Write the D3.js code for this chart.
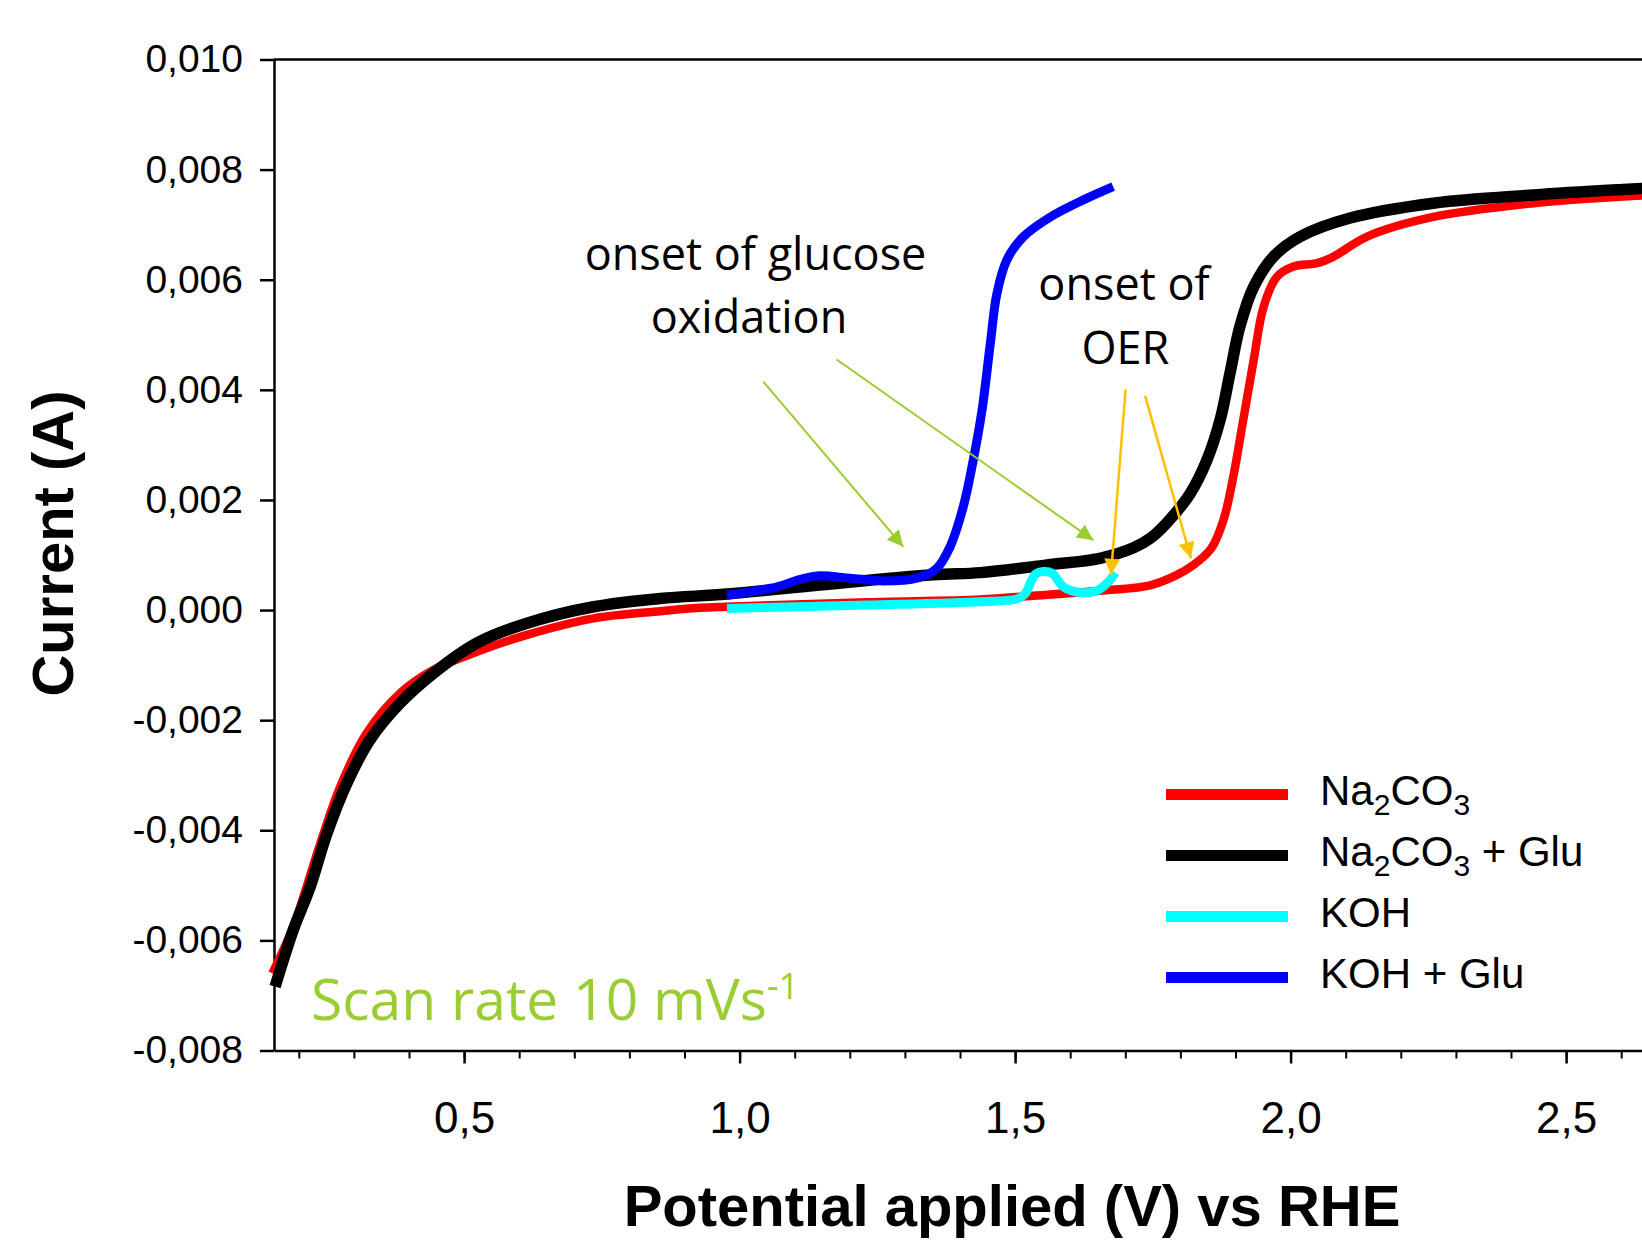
<!DOCTYPE html>
<html>
<head>
<meta charset="utf-8">
<script src="https://cdn.jsdelivr.net/npm/d3@7"></script>
<style>
	html, body { margin: 0; padding: 0; background: #fff; }
	svg { display: block; }
</style>
</head>
<body>
<div id="chart"></div>
<script>
'use strict';

// potential (V vs RHE) and current (A)
var na2co3V = [0.152, 0.19, 0.239, 0.275, 0.323, 0.384, 0.444, 0.523, 0.614, 0.735, 0.856, 0.928, 0.977, 1.231, 1.437, 1.533, 1.665, 1.745, 1.79, 1.824, 1.856, 1.878, 1.896, 1.914, 1.933, 1.951, 1.975, 2.005, 2.048, 2.078, 2.138, 2.259, 2.441, 2.603, 2.66];
var na2co3A = [-0.0066, -0.00575, -0.00424, -0.00321, -0.00224, -0.00151, -0.00109, -0.00076, -0.00045, -0.00015, -0.00002, 0.00004, 0.00006, 0.00014, 0.00019, 0.00026, 0.00036, 0.00045, 0.00062, 0.00082, 0.00112, 0.00163, 0.00242, 0.00345, 0.00454, 0.00551, 0.00605, 0.00624, 0.0063, 0.00642, 0.00678, 0.00714, 0.00739, 0.00751, 0.00754];

var na2co3GluV = [0.157, 0.19, 0.2205, 0.251, 0.287, 0.329, 0.384, 0.444, 0.523, 0.614, 0.735, 0.856, 0.977, 1.15, 1.352, 1.437, 1.558, 1.654, 1.715, 1.745, 1.775, 1.818, 1.848, 1.872, 1.89, 1.908, 1.933, 1.969, 2.017, 2.108, 2.259, 2.441, 2.603, 2.66];
var na2co3GluA = [-0.00684, -0.00581, -0.00503, -0.00406, -0.00315, -0.00236, -0.00169, -0.00115, -0.0006, -0.00024, 0.00006, 0.00021, 0.00029, 0.00046, 0.00064, 0.00068, 0.00082, 0.00094, 0.00113, 0.0013, 0.00158, 0.00212, 0.00272, 0.00345, 0.0043, 0.00515, 0.00587, 0.00642, 0.00678, 0.00712, 0.00739, 0.00754, 0.00764, 0.00767];

var kohV = [0.977, 1.231, 1.437, 1.503, 1.518, 1.53, 1.538, 1.551, 1.567, 1.588, 1.618, 1.648, 1.669, 1.682];
var kohA = [0.00003, 0.00009, 0.00015, 0.0002, 0.00029, 0.00054, 0.00066, 0.0007, 0.00067, 0.00042, 0.00032, 0.00035, 0.00051, 0.00068];

var kohGluV = [0.977, 1.068, 1.104, 1.14, 1.2, 1.261, 1.322, 1.358, 1.382, 1.406, 1.424, 1.44, 1.455, 1.467, 1.485, 1.515, 1.564, 1.624, 1.678];
var kohGluA = [0.00027, 0.00042, 0.00054, 0.00062, 0.00058, 0.00053, 0.00058, 0.00076, 0.00115, 0.00188, 0.00272, 0.00363, 0.00484, 0.00575, 0.00636, 0.00678, 0.00714, 0.00745, 0.00769];

var seriesNames = ["Na2CO3", "Na2CO3 + Glu", "KOH", "KOH + Glu"];
var seriesColors = ["#ff0000", "#000000", "#00ffff", "#0000ff"];

var xTicks = [0.5, 1.0, 1.5, 2.0, 2.5];
var xTickLabels = ["0,5", "1,0", "1,5", "2,0", "2,5"];
var xMinorTicks = d3.range(2, 27).map(function(i) { return i / 10; });
var yTicks = [-0.008, -0.006, -0.004, -0.002, 0, 0.002, 0.004, 0.006, 0.008, 0.010];
var yTickLabels = ["-0,008", "-0,006", "-0,004", "-0,002", "0,000", "0,002", "0,004", "0,006", "0,008", "0,010"];

// arrows: [V start, A start, V tip, A tip]
var glucoseArrows = [[1.043, 0.00415, 1.297, 0.00115], [1.176, 0.00455, 1.642, 0.00127]];
var oerArrows = [[1.7005, 0.00401, 1.674, 0.00064], [1.736, 0.00389, 1.819, 0.00094]];

var width = 1642, height = 1240;
var armFont = "'Liberation Sans', Arial, Helvetica, sans-serif";
var noteFont = "'Open Sans', 'DejaVu Sans', sans-serif";

var x = d3.scaleLinear().domain([0.155, 2.7]).range([274, 1676.3]);
var y = d3.scaleLinear().domain([-0.008, 0.010]).range([1050.5, 59.5]);

var svg = d3.select("#chart").append("svg")
	.attr("width", width)
	.attr("height", height)
	.attr("font-family", armFont);

// frame line on top
svg.append("line")
	.attr("x1", x(0.155)).attr("x2", width)
	.attr("y1", y(0.010)).attr("y2", y(0.010))
	.attr("stroke", "#000").attr("stroke-width", 2.5);

// axes
var xMinor = svg.append("g")
	.attr("transform", "translate(0," + y(-0.008) + ")")
	.call(d3.axisBottom(x).tickValues(xMinorTicks).tickSize(8).tickSizeOuter(0).tickFormat(""));
xMinor.selectAll("line").attr("stroke-width", 2);
xMinor.select(".domain").attr("stroke-width", 2.5);

var xAxis = svg.append("g")
	.attr("transform", "translate(0," + y(-0.008) + ")")
	.call(d3.axisBottom(x).tickValues(xTicks).tickSize(13).tickSizeOuter(0).tickPadding(38)
		.tickFormat(function(d, i) { return xTickLabels[i]; }));
xAxis.select(".domain").remove();
xAxis.selectAll("line").attr("stroke-width", 2.5);
xAxis.selectAll("text")
	.attr("font-family", armFont)
	.attr("font-size", 44)
	.attr("fill", "#000");

var yAxis = svg.append("g")
	.attr("transform", "translate(" + x(0.155) + ",0)")
	.call(d3.axisLeft(y).tickValues(yTicks).tickSize(14).tickSizeOuter(0).tickPadding(17)
		.tickFormat(function(d, i) { return yTickLabels[i]; }));
yAxis.select(".domain").attr("stroke-width", 2.5);
yAxis.selectAll("line").attr("stroke-width", 2.5);
yAxis.selectAll("text")
	.attr("font-family", armFont)
	.attr("font-size", 39)
	.attr("fill", "#000");

// axis titles
svg.append("text")
	.attr("transform", "rotate(-90)")
	.attr("x", -543.5).attr("y", 73)
	.attr("text-anchor", "middle")
	.attr("font-size", 58).attr("font-weight", "bold")
	.text("Current (A)");

svg.append("text")
	.attr("x", 1012).attr("y", 1226)
	.attr("text-anchor", "middle")
	.attr("font-size", 58).attr("font-weight", "bold")
	.text("Potential applied (V) vs RHE");

// curves
function toPoints(vs, as) {
	return vs.map(function(v, i) { return [v, as[i]]; });
}
var series = [
	{ pts: toPoints(na2co3V, na2co3A), color: seriesColors[0], w: 8.5 },
	{ pts: toPoints(na2co3GluV, na2co3GluA), color: seriesColors[1], w: 11.5 },
	{ pts: toPoints(kohV, kohA), color: seriesColors[2], w: 9 },
	{ pts: toPoints(kohGluV, kohGluA), color: seriesColors[3], w: 9 }
];

var line = d3.line()
	.x(function(d) { return x(d[0]); })
	.y(function(d) { return y(d[1]); })
	.curve(d3.curveCatmullRom.alpha(0.5));

svg.append("g").selectAll("path")
	.data(series)
	.enter().append("path")
	.attr("d", function(s) { return line(s.pts); })
	.attr("fill", "none")
	.attr("stroke", function(s) { return s.color; })
	.attr("stroke-width", function(s) { return s.w; })
	.attr("stroke-linejoin", "round")
	.attr("stroke-linecap", "butt");

// arrows
var defs = svg.append("defs");
function marker(id, color) {
	defs.append("marker")
		.attr("id", id)
		.attr("viewBox", "0 0 10 10")
		.attr("refX", 10).attr("refY", 5)
		.attr("markerUnits", "userSpaceOnUse")
		.attr("markerWidth", 19).attr("markerHeight", 16)
		.attr("orient", "auto")
		.append("path")
		.attr("d", "M0,0 L10,5 L0,10 Z")
		.attr("fill", color);
}
marker("headGreen", "#9acd32");
marker("headOrange", "#ffc000");

function drawArrows(list, color, head, w) {
	svg.append("g").selectAll("line")
		.data(list)
		.enter().append("line")
		.attr("x1", function(d) { return x(d[0]); })
		.attr("y1", function(d) { return y(d[1]); })
		.attr("x2", function(d) { return x(d[2]); })
		.attr("y2", function(d) { return y(d[3]); })
		.attr("stroke", color)
		.attr("stroke-width", w)
		.attr("marker-end", "url(#" + head + ")");
}
drawArrows(glucoseArrows, "#9acd32", "headGreen", 2);
drawArrows(oerArrows, "#ffc000", "headOrange", 2.5);

// annotation texts
var notes = [
	{ t: "onset of glucose", x: 755.5, y: 270 },
	{ t: "oxidation", x: 749, y: 333 },
	{ t: "onset of", x: 1124, y: 300 },
	{ t: "OER", x: 1125.5, y: 364 }
];
svg.append("g").selectAll("text")
	.data(notes)
	.enter().append("text")
	.attr("x", function(d) { return d.x; })
	.attr("y", function(d) { return d.y; })
	.attr("text-anchor", "middle")
	.attr("font-family", noteFont)
	.attr("font-size", 45)
	.attr("fill", "#000")
	.text(function(d) { return d.t; });

var scan = svg.append("text")
	.attr("x", 311).attr("y", 1020)
	.attr("font-family", noteFont)
	.attr("font-size", 57)
	.attr("fill", "#9acd32");
scan.append("tspan").text("Scan rate 10 mVs");
scan.append("tspan").attr("font-size", 36).attr("dy", -21).text("-1");

// legend
var legend = svg.append("g");
var legendRows = [
	[["Na", 0], ["2", 1], ["CO", 0], ["3", 1]],
	[["Na", 0], ["2", 1], ["CO", 0], ["3", 1], ["\u00a0+ Glu", 0]],
	[["KOH", 0]],
	[["KOH + Glu", 0]]
];
legendRows.forEach(function(parts, i) {
	var cy = 794.5 + i * 61;
	legend.append("line")
		.attr("x1", 1166).attr("x2", 1288)
		.attr("y1", cy).attr("y2", cy)
		.attr("stroke", seriesColors[i])
		.attr("stroke-width", 11);
	var txt = legend.append("text")
		.attr("x", 1320).attr("y", cy + 10.5)
		.attr("font-size", 42)
		.attr("fill", "#000");
	var low = false;
	parts.forEach(function(p) {
		var ts = txt.append("tspan").text(p[0]);
		if (p[1] && !low) { ts.attr("font-size", 30).attr("dy", 10); low = true; }
		else if (p[1]) { ts.attr("font-size", 30); }
		else if (low) { ts.attr("dy", -10); low = false; }
	});
});
</script>
</body>
</html>
